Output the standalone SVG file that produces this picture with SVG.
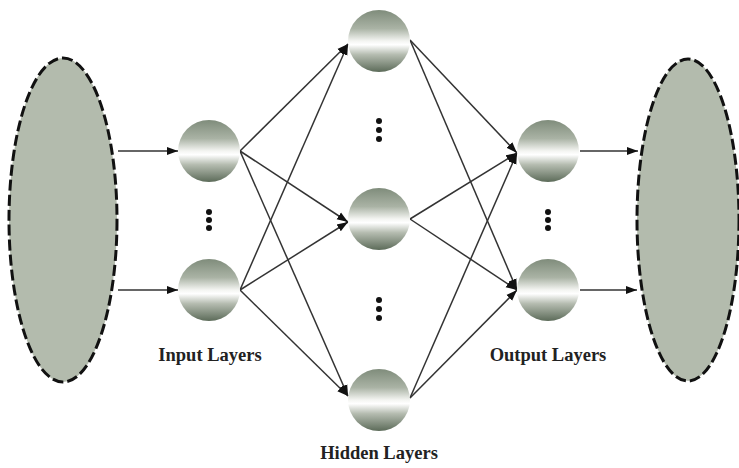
<svg xmlns="http://www.w3.org/2000/svg" width="739" height="468" viewBox="0 0 739 468">
  <defs>
    <linearGradient id="ball" x1="0" y1="0" x2="0" y2="1">
      <stop offset="0" stop-color="#7f8c7b"/>
      <stop offset="0.3" stop-color="#aab3a5"/>
      <stop offset="0.5" stop-color="#f4f5f2"/>
      <stop offset="0.56" stop-color="#ffffff"/>
      <stop offset="0.72" stop-color="#b5bcb0"/>
      <stop offset="1" stop-color="#5c6b59"/>
    </linearGradient>
    <marker id="arr" viewBox="0 0 11 10" refX="11" refY="5" markerWidth="11" markerHeight="10" markerUnits="userSpaceOnUse" orient="auto">
      <path d="M0,1 L11,5 L0,9 Z" fill="#111"/>
    </marker>
  </defs>
  <style>
    .blob { fill: #b3bbad; stroke: #111; stroke-width: 3; stroke-dasharray: 11 4; }
    .node { fill: url(#ball); }
    .dot { fill: #111; }
    .edge { stroke: #333; stroke-width: 1.5; fill: none; marker-end: url(#arr); }
    .lbl { font-family: "Liberation Serif", serif; font-weight: bold; font-size: 18.5px; fill: #222; text-anchor: middle; }
  </style>
  <rect width="739" height="468" fill="#ffffff"/>

  <g id="connectors">
    <!-- source to input -->
    <line class="edge" x1="118" y1="151" x2="178" y2="151"/>
    <line class="edge" x1="118" y1="290" x2="178" y2="290"/>
    <!-- input to hidden -->
    <line class="edge" x1="240" y1="151" x2="348" y2="44"/>
    <line class="edge" x1="240" y1="151" x2="348" y2="222"/>
    <line class="edge" x1="240" y1="151" x2="348" y2="396"/>
    <line class="edge" x1="240" y1="290" x2="348" y2="44"/>
    <line class="edge" x1="240" y1="290" x2="348" y2="222"/>
    <line class="edge" x1="240" y1="290" x2="348" y2="396"/>
    <!-- hidden to output -->
    <line class="edge" x1="410" y1="40" x2="517" y2="153"/>
    <line class="edge" x1="410" y1="40" x2="517" y2="290"/>
    <line class="edge" x1="410" y1="219" x2="517" y2="153"/>
    <line class="edge" x1="410" y1="219" x2="517" y2="290"/>
    <line class="edge" x1="410" y1="398" x2="517" y2="153"/>
    <line class="edge" x1="410" y1="398" x2="517" y2="290"/>
    <!-- output to sink -->
    <line class="edge" x1="580" y1="151" x2="638" y2="151"/>
    <line class="edge" x1="580" y1="290" x2="637" y2="290"/>
  </g>

  <g id="source"><ellipse class="blob" cx="63" cy="220" rx="54" ry="162"/></g>
  <g id="sink"><ellipse class="blob" cx="688" cy="220" rx="51" ry="161"/></g>

  <g id="input-1"><circle class="node" cx="209" cy="151" r="31"/></g>
  <g id="input-n"><circle class="node" cx="209" cy="290" r="31"/></g>
  <g id="input-dots">
    <circle class="dot" cx="209" cy="212" r="3"/>
    <circle class="dot" cx="209" cy="220" r="3"/>
    <circle class="dot" cx="209" cy="228" r="3"/>
  </g>

  <g id="hidden-1"><circle class="node" cx="379" cy="41" r="31"/></g>
  <g id="hidden-2"><circle class="node" cx="379" cy="219" r="31"/></g>
  <g id="hidden-3"><circle class="node" cx="379" cy="400" r="31"/></g>
  <g id="hidden-dots-upper">
    <circle class="dot" cx="379" cy="121" r="3"/>
    <circle class="dot" cx="379" cy="130" r="3"/>
    <circle class="dot" cx="379" cy="139" r="3"/>
  </g>
  <g id="hidden-dots-lower">
    <circle class="dot" cx="379" cy="300" r="3"/>
    <circle class="dot" cx="379" cy="309" r="3"/>
    <circle class="dot" cx="379" cy="318" r="3"/>
  </g>

  <g id="output-1"><circle class="node" cx="548" cy="151" r="31"/></g>
  <g id="output-n"><circle class="node" cx="548" cy="290" r="31"/></g>
  <g id="output-dots">
    <circle class="dot" cx="548" cy="212" r="3"/>
    <circle class="dot" cx="548" cy="220" r="3"/>
    <circle class="dot" cx="548" cy="228" r="3"/>
  </g>

  <g id="labels">
    <text class="lbl" x="210" y="361">Input Layers</text>
    <text class="lbl" x="379" y="459">Hidden Layers</text>
    <text class="lbl" x="548" y="361">Output Layers</text>
  </g>
</svg>
